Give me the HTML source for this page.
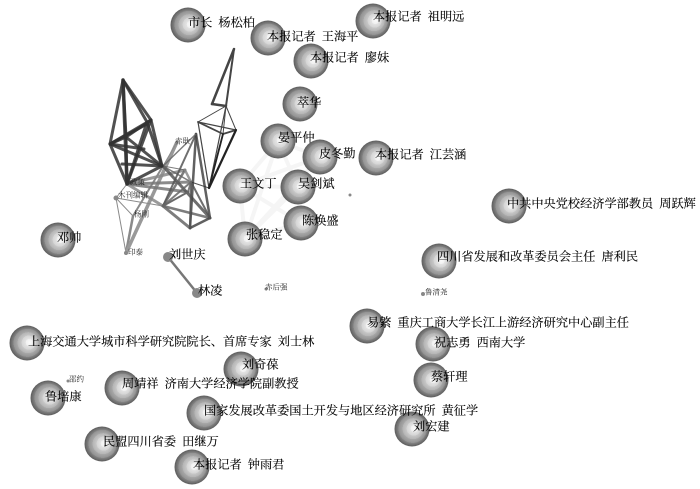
<!DOCTYPE html>
<html>
<head>
<meta charset="utf-8">
<style>
html,body{margin:0;padding:0;background:#fff;width:700px;height:489px;overflow:hidden}
svg{display:block}
text{font-family:"Liberation Serif","Noto Serif CJK SC",serif;fill:#000;white-space:pre}
.l text{font-size:12.2px;word-spacing:3px;stroke:#000;stroke-width:.12px}
.s text{font-size:7.5px;fill:#222}
line{stroke-linecap:round}
</style>
</head>
<body>
<svg width="700" height="489" viewBox="0 0 700 489" xmlns="http://www.w3.org/2000/svg">
<defs>
<radialGradient id="g" cx="0.5" cy="0.5" r="0.5" fx="0.58" fy="0.48">
<stop offset="0" stop-color="#fafafa"/><stop offset=".2" stop-color="#f0f0f0"/>
<stop offset=".2" stop-color="#e4e4e4"/><stop offset=".4" stop-color="#d4d4d4"/>
<stop offset=".4" stop-color="#c8c8c8"/><stop offset=".6" stop-color="#b4b4b4"/>
<stop offset=".6" stop-color="#a8a8a8"/><stop offset=".8" stop-color="#929292"/>
<stop offset=".8" stop-color="#858585"/><stop offset="1" stop-color="#5c5c5c"/>
</radialGradient>
<filter id="b" x="-5%" y="-5%" width="110%" height="110%"><feGaussianBlur stdDeviation="0.35"/></filter>
<circle id="n" r="17.5" fill="url(#g)"/>
</defs>

<g filter="url(#b)">
<!-- faint edges -->
<g stroke="#f5f5f5" stroke-width="4" fill="none">
<line x1="278" y1="141" x2="240" y2="186"/><line x1="278" y1="141" x2="298" y2="187"/>
<line x1="278" y1="141" x2="320" y2="157"/><line x1="278" y1="141" x2="245" y2="239"/>
<line x1="240" y1="186" x2="298" y2="187"/><line x1="240" y1="186" x2="245" y2="239"/>
<line x1="240" y1="186" x2="320" y2="157"/><line x1="240" y1="186" x2="301" y2="223"/>
<line x1="298" y1="187" x2="245" y2="239"/><line x1="320" y1="157" x2="245" y2="239"/>
<line x1="301" y1="223" x2="245" y2="239"/>
</g>

<!-- lower left light edges -->
<g stroke="#8a8a8a" fill="none">
<line x1="116" y1="198" x2="127" y2="184" stroke-width="1"/>
<line x1="116" y1="198" x2="133" y2="216" stroke-width="1"/>
<line x1="116" y1="198" x2="126" y2="253" stroke-width="1"/>
<line x1="133" y1="216" x2="126" y2="253" stroke-width="2.5"/>
<line x1="126" y1="253" x2="177" y2="142" stroke-width="3.5" stroke="#999"/>
<line x1="133" y1="216" x2="163" y2="166" stroke-width="2"/>
<line x1="116" y1="198" x2="163" y2="206" stroke-width="1"/>
<line x1="163" y1="166" x2="177" y2="142" stroke-width="1"/>
<line x1="168" y1="257" x2="197" y2="293" stroke-width="2.5" stroke="#777"/>
</g>

<!-- middle cluster -->
<g stroke="#666" fill="none" stroke-opacity=".85">
<line x1="127" y1="184" x2="191" y2="182" stroke-width="3" stroke="#777"/>
<line x1="127" y1="184" x2="188" y2="192" stroke-width="3" stroke="#777"/>
<line x1="127" y1="184" x2="185" y2="170" stroke-width="3" stroke="#888"/>
<line x1="127" y1="184" x2="163" y2="206" stroke-width="3" stroke="#888"/>
<line x1="163" y1="166" x2="210" y2="218" stroke-width="3" stroke="#555"/>
<line x1="163" y1="166" x2="191" y2="182" stroke-width="1.5"/>
<line x1="163" y1="166" x2="185" y2="170" stroke-width="1"/>
<line x1="163" y1="206" x2="185" y2="170" stroke-width="2.5"/>
<line x1="163" y1="206" x2="196" y2="134" stroke-width="2" stroke="#555"/>
<line x1="163" y1="206" x2="210" y2="218" stroke-width="2.5"/>
<line x1="163" y1="206" x2="190" y2="228" stroke-width="3"/>
<line x1="163" y1="206" x2="191" y2="182" stroke-width="2"/>
<line x1="163" y1="206" x2="188" y2="192" stroke-width="1.5"/>
<line x1="196" y1="134" x2="190" y2="228" stroke-width="2.5" stroke="#444"/>
<line x1="196" y1="134" x2="210" y2="218" stroke-width="2.5" stroke="#444"/>
<line x1="196" y1="134" x2="163" y2="166" stroke-width="1.5"/>
<line x1="190" y1="228" x2="210" y2="218" stroke-width="2.5" stroke="#444"/>
<line x1="191" y1="182" x2="210" y2="218" stroke-width="2" stroke="#555"/>
<line x1="191" y1="182" x2="190" y2="228" stroke-width="2" stroke="#555"/>
<line x1="185" y1="170" x2="191" y2="182" stroke-width="2.5" stroke="#888"/>
<line x1="191" y1="182" x2="209" y2="188" stroke-width="1" stroke="#333"/>
<line x1="188" y1="192" x2="191" y2="182" stroke-width="2"/>
<line x1="188" y1="192" x2="163" y2="206" stroke-width="2"/>
</g>

<!-- dark cluster -->
<g stroke="#333" fill="none" stroke-opacity=".85" stroke-width="3">
<line x1="123" y1="80" x2="110" y2="144"/>
<line x1="123" y1="80" x2="127" y2="184" stroke-width="3.5"/>
<line x1="123" y1="80" x2="126" y2="137"/>
<line x1="126" y1="137" x2="127" y2="184"/>
<line x1="123" y1="80" x2="151" y2="120"/>
<line x1="123" y1="80" x2="147" y2="122"/>
<line x1="147" y1="122" x2="162" y2="166"/>
<line x1="110" y1="144" x2="127" y2="184"/>
<line x1="110" y1="144" x2="151" y2="120"/>
<line x1="110" y1="144" x2="147" y2="124"/>
<line x1="110" y1="144" x2="162" y2="166"/>
<line x1="110" y1="144" x2="144" y2="149"/>
<line x1="151" y1="120" x2="162" y2="166"/>
<line x1="151" y1="120" x2="127" y2="184"/>
<line x1="147" y1="122" x2="127" y2="184"/>
<line x1="162" y1="166" x2="127" y2="184"/>
<line x1="126" y1="137" x2="162" y2="166"/>
<line x1="126" y1="137" x2="151" y2="120"/>
<line x1="126" y1="137" x2="110" y2="144"/>
<line x1="122" y1="164" x2="162" y2="166"/>
</g>

<!-- right cluster -->
<g stroke="#444" fill="none">
<line x1="234" y1="49" x2="212" y2="104" stroke-width="2.5"/>
<line x1="234" y1="49" x2="226" y2="106" stroke-width="2"/>
<line x1="212" y1="104" x2="226" y2="106" stroke-width="2.5"/>
<line x1="226" y1="106" x2="198" y2="122" stroke-width="1"/>
<line x1="226" y1="106" x2="236" y2="130" stroke-width="1"/>
<line x1="226" y1="106" x2="223" y2="134" stroke-width="1"/>
<line x1="226" y1="106" x2="209" y2="188" stroke-width="1.2"/>
<line x1="198" y1="122" x2="236" y2="130" stroke-width="1.2"/>
<line x1="198" y1="122" x2="223" y2="134" stroke-width="1.8"/>
<line x1="198" y1="122" x2="209" y2="188" stroke-width="1.2"/>
<line x1="236" y1="130" x2="223" y2="134" stroke-width="1.8"/>
<line x1="236" y1="130" x2="209" y2="188" stroke-width="2.2" stroke="#222"/>
<line x1="223" y1="134" x2="209" y2="188" stroke-width="1.8" stroke="#222"/>
</g>

<!-- small nodes -->
<g fill="#888">
<circle cx="116" cy="198" r="2.5"/><circle cx="133" cy="216" r="1"/>
<circle cx="126" cy="253" r="2"/>
<circle cx="168" cy="257" r="5"/><circle cx="197" cy="293" r="5"/>
<circle cx="266" cy="289" r="1.5"/><circle cx="423" cy="294" r="2"/>
<circle cx="68" cy="381" r="1.5"/>
<circle cx="350" cy="195" r="1.5"/>
</g>

<!-- spheres -->
<use href="#n" x="188" y="25"/><use href="#n" x="268" y="38"/>
<use href="#n" x="373" y="21"/><use href="#n" x="311" y="61"/>
<use href="#n" x="300" y="104"/><use href="#n" x="278" y="141"/>
<use href="#n" x="320" y="157"/><use href="#n" x="376" y="158"/>
<use href="#n" x="240" y="186"/><use href="#n" x="298" y="187"/>
<use href="#n" x="301" y="223"/><use href="#n" x="245" y="239"/>
<use href="#n" x="509" y="206"/><use href="#n" x="439" y="261"/>
<use href="#n" x="58" y="240"/>
<use href="#n" x="367" y="326"/><use href="#n" x="433" y="344"/>
<use href="#n" x="431" y="380"/><use href="#n" x="412" y="429"/>
<use href="#n" x="27" y="343"/><use href="#n" x="241" y="369"/>
<use href="#n" x="122" y="388"/><use href="#n" x="48" y="398"/>
<use href="#n" x="204" y="413"/><use href="#n" x="102" y="444"/>
<use href="#n" x="192" y="467"/>

<!-- labels -->
<g class="l">
<text x="188" y="26.500">市长 杨松柏</text>
<text x="267" y="40.500">本报记者 王海平</text>
<text x="373" y="20.500">本报记者 祖明远</text>
<text x="310" y="61.500">本报记者 廖妹</text>
<text x="297" y="106.500">萃华</text>
<text x="278" y="141.500">晏平仲</text>
<text x="319" y="157.500">皮冬勤</text>
<text x="375" y="158.500">本报记者 江芸涵</text>
<text x="240" y="187.500">王文丁</text>
<text x="298" y="187.500">吴剑斌</text>
<text x="302" y="224.500">陈焕盛</text>
<text x="246" y="238.500">张稳定</text>
<text x="507" y="207.500">中共中央党校经济学部教员 周跃辉</text>
<text x="437" y="260.500">四川省发展和改革委员会主任 唐利民</text>
<text x="57" y="241.500">邓帅</text>
<text x="169" y="258.500">刘世庆</text>
<text x="198" y="294.500">林凌</text>
<text x="367" y="326.500">易綮 重庆工商大学长江上游经济研究中心副主任</text>
<text x="434" y="346.500">祝志勇 西南大学</text>
<text x="431" y="380.500">蔡轩理</text>
<text x="413" y="430.500">刘宏建</text>
<text x="28" y="345.500">上海交通大学城市科学研究院院长、首席专家 刘士林</text>
<text x="242" y="368.500">刘奇葆</text>
<text x="122" y="387.500">周靖祥 济南大学经济学院副教授</text>
<text x="45" y="400.500">鲁培康</text>
<text x="204" y="414.500">国家发展改革委国土开发与地区经济研究所 黄征学</text>
<text x="103" y="445.500">民盟四川省委 田继万</text>
<text x="193" y="468.500">本报记者 钟雨君</text>
</g>
<g class="s">
<text x="265" y="289.500">赤后强</text>
<text x="425" y="294.500">鲁清尧</text>
<text x="69" y="381.500">邵约</text>
<text x="118" y="197.500">木刊编辑</text>
<text x="134" y="216.500">杨刚</text>
<text x="128" y="254.500">印泰</text>
<text x="175" y="143.500">赤耿</text>
<text x="130" y="184.500">政策</text>
</g>
</g>
</svg>
</body>
</html>
